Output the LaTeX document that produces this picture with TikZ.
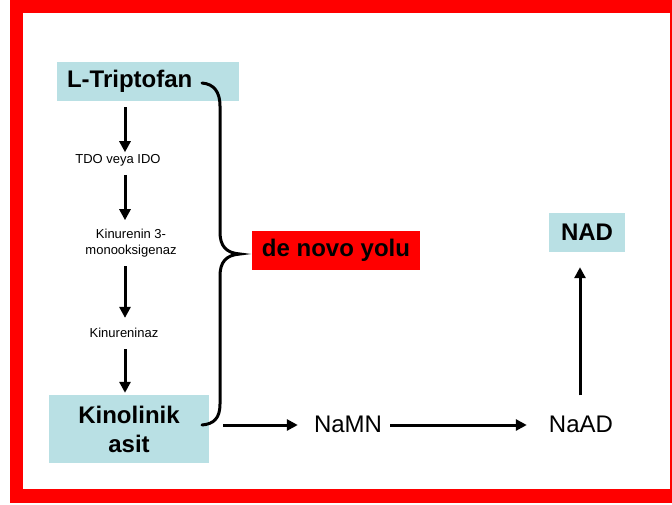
\documentclass[tikz,border=0pt]{standalone}
\usepackage{fontspec}
\setmainfont{Liberation Sans}
\usetikzlibrary{arrows.meta}
\definecolor{boxblue}{RGB}{185,224,228}
\definecolor{framered}{RGB}{255,0,0}
\begin{document}
\begin{tikzpicture}[x=1pt,y=-1pt,
  big/.style={font=\fontsize{24}{29}\selectfont},
  bigbold/.style={font=\fontsize{24}{29}\selectfont\bfseries},
  small/.style={font=\fontsize{13}{16}\selectfont, inner sep=0pt, align=center},
  molbox/.style={fill=boxblue, bigbold, inner sep=0pt, align=center},
  arr/.style={line width=3pt, -{Triangle[length=11pt,width=11pt]}},
  bracepath/.style={line width=3pt, line cap=round}
]
\useasboundingbox (0,0) rectangle (672,504);
% red frame
\fill[white] (0,0) rectangle (672,504);
\fill[framered] (10,0) rectangle (672,503);
\fill[white] (23,13) rectangle (670,489);

% axis coordinates for the straight connectors
\coordinate (ax) at (125,0);
\coordinate (ay) at (0,425);
\coordinate (bx) at (580,0);

% molecules
\node[molbox, minimum width=182pt, minimum height=39pt, text width=162pt,
      inner xsep=10pt, align=left] (trp) at (148,81.5) {L-Triptofan};
\node[molbox, minimum width=160pt, minimum height=68pt] (kin) at (129,429) {Kinolinik\\asit};
\node[molbox, minimum width=76pt, minimum height=39pt] (nad) at (587,232.5) {NAD};
\node[big, inner sep=0pt, anchor=base] (namn) at (348,432) {NaMN};
\node[big, inner sep=0pt, anchor=base] (naad) at (581,432) {NaAD};
\node[fill=framered, bigbold, inner sep=0pt, minimum width=168pt, minimum height=39pt]
      (denovo) at (336,250.5) {de novo yolu};

% enzyme labels
\node[small, anchor=base] (l1) at (118,163) {TDO veya IDO};
\node[small, anchor=north] (l2) at (131,228.7) {Kinurenin 3-\\monooksigenaz};
\node[small, anchor=base] (l3) at (124,337) {Kinureninaz};

% de novo steps
\draw[arr, shorten <=6pt, shorten >=1.5pt] (trp.south -| ax) -- (l1.north -| ax);
\draw[arr, shorten <=9pt, shorten >=8.5pt] (l1.south -| ax) -- (l2.north -| ax);
\draw[arr, shorten <=9pt, shorten >=9.5pt] (l2.south -| ax) -- (l3.north -| ax);
\draw[arr, shorten <=12pt, shorten >=2pt] (l3.south -| ax) -- (kin.north -| ax);

% towards NAD
\draw[arr, shorten <=14pt, shorten >=16pt] (kin.east |- ay) -- (namn.west |- ay);
\draw[arr, shorten <=8pt, shorten >=22pt] (namn.east |- ay) -- (naad.west |- ay);
\draw[arr, shorten <=20pt, shorten >=15pt] (naad.north -| bx) -- (nad.south -| bx);

% brace grouping the de novo pathway
\draw[bracepath] (202,83) .. controls (214,84) and (220,92) .. (220,106)
  -- (220,232) .. controls (220,246) and (226,253) .. (240,254)
  .. controls (226,255) and (220,262) .. (220,276)
  -- (220,404) .. controls (220,418) and (214,424) .. (202,425);
\end{tikzpicture}
\end{document}
